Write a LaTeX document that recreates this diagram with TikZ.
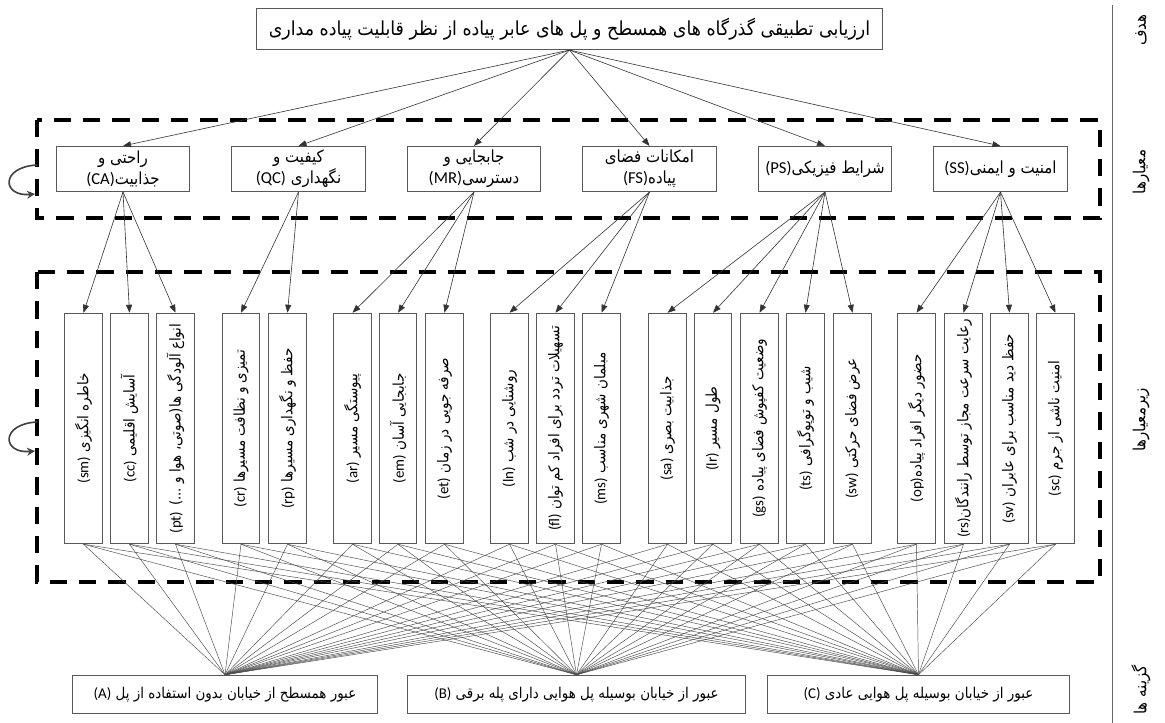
\documentclass[tikz,border=0pt]{standalone}
\usepackage{fontspec}
\setmainfont{Carlito}
\newfontfamily\fafont[Script=Arabic,FakeStretch=0.9]{DejaVu Sans}
\TeXXeTstate=1
\usetikzlibrary{arrows.meta}
\newcommand{\fa}[1]{{\fafont\beginR #1\endR}}
\newcommand{\la}[1]{\beginL{\rmfamily #1}\endL}

\begin{document}
\begin{tikzpicture}[x=0.75pt, y=-0.75pt,
  box/.style={draw=black!65, line width=0.6pt, inner sep=1pt, align=center,
    font=\fontsize{12.5}{16}\selectfont},
  goalbox/.style={box, minimum width=469pt, minimum height=31pt,
    font=\fontsize{14.5}{17}\selectfont},
  critbox/.style={box, minimum width=100pt, minimum height=34pt},
  subbox/.style={box, rotate=90, minimum width=173pt, minimum height=28pt,
    font=\fontsize{11.2}{13}\selectfont},
  altbox/.style={box, minimum height=29pt, font=\fontsize{11.2}{14}\selectfont},
  layer/.style={line width=2.3pt, dash pattern=on 13pt off 9pt},
  link/.style={draw=black!80, line width=0.45pt, -{Triangle[length=6pt,width=4.5pt]}},
  tie/.style={draw=black!70, line width=0.35pt},
  selfloop/.style={draw=black!75, line width=1.2pt, -{Stealth[length=6pt,width=6pt]}},
  level/.style={rotate=90, font=\fontsize{12.5}{14}\selectfont}]
  \useasboundingbox (0,0) rectangle (1165,723);

  % Levels on the right
  \draw[black!60, line width=0.6pt] (1112,5) -- (1112,723);
  \node[level] (lgoal) at (1141,30) {\fa{هدف}};
  \node[level] (lcrit) at (1141,172) {\fa{معیارها}};
  \node[level] (lsub) at (1141,420) {\fa{زیرمعیارها}};
  \node[level] (lalt) at (1141,690) {\fa{گزینه ها}};

  % Dashed layers with loops
  \draw[layer] (37,120) rectangle (1100,218);
  \draw[layer] (37,272) rectangle (1100,582);
  \draw[selfloop] (37,165) .. controls (0,167) and (2,197) .. (35,194);
  \draw[selfloop] (37,422) .. controls (0,424) and (2,454) .. (35,451);

  % Goal
  \node[goalbox] (goal) at (569.5,29)
    {\fa{ارزیابی تطبیقی گذرگاه های همسطح و پل های عابر پیاده از نظر قابلیت پیاده مداری}};

  % Criteria
  \node[critbox] (CA) at (123,169) {\fa{راحتی و}\\\fa{جذابیت\la{(CA)}}};
  \node[critbox] (QC) at (298.5,169) {\fa{کیفیت و}\\\fa{نگهداری \la{(QC)}}};
  \node[critbox] (MR) at (474,169) {\fa{جابجایی و}\\\fa{دسترسی\la{(MR)}}};
  \node[critbox] (FS) at (649.5,169) {\fa{امکانات فضای}\\\fa{پیاده\la{(FS)}}};
  \node[critbox] (PS) at (825,169) {\fa{شرایط فیزیکی\la{(PS)}}};
  \node[critbox] (SS) at (1000.5,169) {\fa{امنیت و ایمنی\la{(SS)}}};

  % Sub-criteria
  \node[subbox] (sm) at (83.5,428.5) {\fa{خاطره انگیزی \la{(sm)}}};
  \node[subbox] (cc) at (129.5,428.5) {\fa{آسایش اقلیمی \la{(cc)}}};
  \node[subbox] (pt) at (175.5,428.5) {\fa{انواع آلودگی ها(صوتی، هوا و ...) \la{(pt)}}};
  \node[subbox] (cr) at (241,428.5) {\fa{تمیزی و نظافت مسیرها \la{(cr)}}};
  \node[subbox] (rp) at (287.5,428.5) {\fa{حفظ و نگهداری مسیرها \la{(rp)}}};
  \node[subbox] (ar) at (352.5,428.5) {\fa{پیوستگی مسیر \la{(ar)}}};
  \node[subbox] (em) at (398,428.5) {\fa{جابجایی آسان \la{(em)}}};
  \node[subbox] (et) at (444.5,428.5) {\fa{صرفه جویی در زمان \la{(et)}}};
  \node[subbox] (ln) at (509.5,428.5) {\fa{روشنایی در شب \la{(ln)}}};
  \node[subbox] (fl) at (555.5,428.5) {\fa{تسهیلات تردد برای افراد کم توان \la{(fl)}}};
  \node[subbox] (ms) at (601.5,428.5) {\fa{مبلمان شهری مناسب \la{(ms)}}};
  \node[subbox] (sa) at (667.5,428.5) {\fa{جذابیت بصری \la{(sa)}}};
  \node[subbox] (lr) at (713,428.5) {\fa{طول مسیر \la{(lr)}}};
  \node[subbox] (gs) at (759.5,428.5) {\fa{وضعیت کفپوش فضای پیاده \la{(gs)}}};
  \node[subbox] (ts) at (805.5,428.5) {\fa{شیب و توپوگرافی \la{(ts)}}};
  \node[subbox] (sw) at (852.5,428.5) {\fa{عرض فضای حرکتی \la{(sw)}}};
  \node[subbox] (op) at (916.5,428.5) {\fa{حضور دیگر افراد پیاده\la{(op)}}};
  \node[subbox] (rs) at (963.5,428.5) {\fa{رعایت سرعت مجاز توسط رانندگان\la{(rs)}}};
  \node[subbox] (sv) at (1009.5,428.5) {\fa{حفظ دید مناسب برای عابران \la{(sv)}}};
  \node[subbox] (sc) at (1055.5,428.5) {\fa{امنیت ناشی از جرم \la{(sc)}}};

  % Alternatives
  \node[altbox, minimum width=229pt] (A) at (225,694.5)
    {\fa{عبور همسطح از خیابان بدون استفاده از پل \la{(A)}}};
  \node[altbox, minimum width=254pt] (B) at (576.5,694.5)
    {\fa{عبور از خیابان بوسیله پل هوایی دارای پله برقی \la{(B)}}};
  \node[altbox, minimum width=227pt] (C) at (918.5,694.5)
    {\fa{عبور از خیابان بوسیله پل هوایی عادی \la{(C)}}};

  % Goal to criteria
  \foreach \c in {CA,QC,MR,FS,PS,SS}
    \draw[link] (goal.south) -- (\c.north);

  % Criteria to sub-criteria (top of a rotated box is its east)
  \foreach \c/\s in {CA/sm,CA/cc,CA/pt,QC/cr,QC/rp,MR/ar,MR/em,MR/et,
      FS/ln,FS/fl,FS/ms,PS/sa,PS/lr,PS/gs,PS/ts,PS/sw,SS/op,SS/rs,SS/sv,SS/sc}
    \draw[link] (\c.south) -- (\s.east);

  % Sub-criteria to alternatives
  \foreach \s in {sm,cc,pt,cr,rp,ar,em,et,ln,fl,ms,sa,lr,gs,ts,sw,op,rs,sv,sc}
    \foreach \a in {A,B,C}
      \draw[tie] (\s.west) -- (\a.north);
\end{tikzpicture}
\end{document}
